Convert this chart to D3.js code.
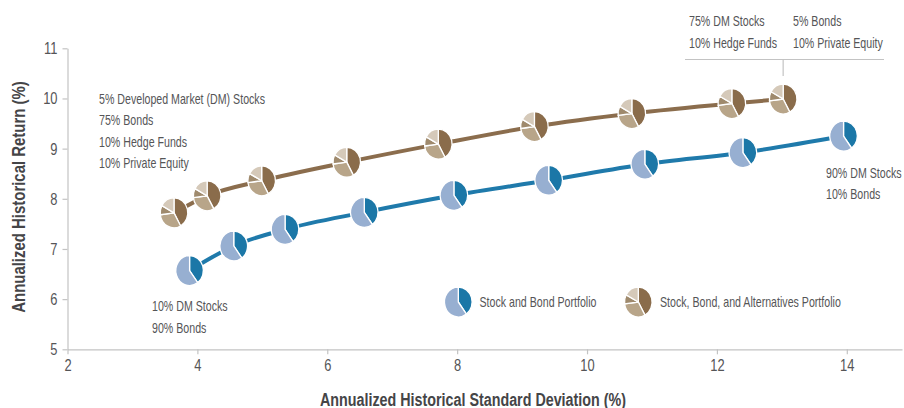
<!DOCTYPE html>
<html>
<head>
<meta charset="utf-8">
<script src="https://cdn.jsdelivr.net/npm/d3@7"></script>
<style>
  html, body { margin: 0; padding: 0; background: #fff; }
  svg { display: block; }
  text { font-family: "Liberation Sans", Arial, sans-serif; }
</style>
</head>
<body>
<svg id="chart" width="904" height="408"></svg>
<script>
// ---- data ----
const stockBondRisk   = [3.88, 4.56, 5.35, 6.57, 7.95, 9.41, 10.89, 12.40, 13.95];
const stockBondReturn = [6.57, 7.06, 7.39, 7.73, 8.07, 8.37, 8.69, 8.92, 9.25];
const altRisk   = [3.64, 4.15, 4.99, 6.30, 7.71, 9.19, 10.69, 12.23, 13.02];
const altReturn = [7.72, 8.06, 8.36, 8.73, 9.09, 9.44, 9.70, 9.90, 9.99];
const xTicks = [2, 4, 6, 8, 10, 12, 14];
const yTicks = [5, 6, 7, 8, 9, 10, 11];
// pie icon shares (stylised icon, same for each marker)
const stockBondIcon = [40, 60];
const altIcon = [42, 31, 10, 17];
const seriesNames = ["Stock and Bond Portfolio", "Stock, Bond, and Alternatives Portfolio"];
const startAltLabel = ["5% Developed Market (DM) Stocks", "75% Bonds", "10% Hedge Funds", "10% Private Equity"];
const endAltLabelA = ["75% DM Stocks", "10% Hedge Funds"];
const endAltLabelB = ["5% Bonds", "10% Private Equity"];
const startSBLabel = ["10% DM Stocks", "90% Bonds"];
const endSBLabel = ["90% DM Stocks", "10% Bonds"];
const xTitle = "Annualized Historical Standard Deviation (%)";
const yTitle = "Annualized Historical Return (%)";

// ---- style ----
const blueColors = ["#1b77a7", "#97afd1"];
const brownColors = ["#8a6c4b", "#b8a589", "#9f8a6d", "#d5c9b9"];
const blueLine = "#1f7aab", brownLine = "#8b6d4d";
const textCol = "#555557", titleCol = "#454547", axisCol = "#c3c3c3";
const SX = 0.76; // horizontal condensing of text

const svg = d3.select("#chart");
const x = d3.scaleLinear().domain([2, 14.85]).range([67.5, 902]);
const y = d3.scaleLinear().domain([5, 11]).range([349.3, 48.3]);

// axes
const xAxis = svg.append("g").attr("transform", `translate(0,${y(5)})`)
  .call(d3.axisBottom(x).tickValues(xTicks).tickFormat(d3.format("d")).tickSizeInner(5).tickSizeOuter(0).tickPadding(5));
const yAxis = svg.append("g").attr("transform", `translate(${x(2)},0)`)
  .call(d3.axisLeft(y).tickValues(yTicks).tickFormat(d3.format("d")).tickSizeInner(5).tickSizeOuter(0).tickPadding(5));
[xAxis, yAxis].forEach(g => {
  g.select(".domain").attr("stroke", axisCol).attr("stroke-width", 1.2);
  g.selectAll(".tick line").attr("stroke", axisCol).attr("stroke-width", 1.2);
  g.selectAll(".tick text").attr("fill", textCol)
    .style("font-size", "17px").style("font-family", '"Liberation Sans", Arial, sans-serif')
    .each(function () {
      const t = d3.select(this);
      const xv = +t.attr("x") || 0;
      t.attr("x", xv / SX).attr("transform", `scale(${SX},1)`);
    });
});

// condensed text helper
function label(str, tx, ty, opt = {}) {
  const sx = opt.sx || SX;
  return svg.append("text")
    .attr("transform", `translate(${tx},${ty})${opt.rotate ? " rotate(" + opt.rotate + ")" : ""} scale(${sx},1)`)
    .attr("text-anchor", opt.anchor || "start")
    .attr("fill", opt.fill || textCol)
    .style("font-size", (opt.size || 14) + "px")
    .style("font-weight", opt.weight || "normal")
    .text(str);
}

// axis titles
label(xTitle, 473, 405.5, { anchor: "middle", fill: titleCol, size: 18, weight: "bold", sx: 0.795 });
label(yTitle, 24.5, 197, { anchor: "middle", fill: titleCol, size: 18, weight: "bold", rotate: -90, sx: 0.83 });

// lines
const line = d3.line().curve(d3.curveMonotoneX);
svg.append("path").attr("d", line(altRisk.map((d, i) => [x(d), y(altReturn[i])])))
  .attr("fill", "none").attr("stroke", brownLine).attr("stroke-width", 4);
svg.append("path").attr("d", line(stockBondRisk.map((d, i) => [x(d), y(stockBondReturn[i])])))
  .attr("fill", "none").attr("stroke", blueLine).attr("stroke-width", 4);

// pies
const pie = d3.pie().sort(null);
const arc = d3.arc().innerRadius(0).outerRadius(15);
function drawPie(cx, cy, shares, colors) {
  const g = svg.append("g").attr("transform", `translate(${cx},${cy}) scale(0.92,1)`);
  g.selectAll("path").data(pie(shares)).join("path")
    .attr("d", arc).attr("fill", (d, i) => colors[i])
    .attr("stroke", "#fff").attr("stroke-width", 1.4).attr("stroke-linejoin", "round");
}
altRisk.forEach((d, i) => drawPie(x(d), y(altReturn[i]), altIcon, brownColors));
stockBondRisk.forEach((d, i) => drawPie(x(d), y(stockBondReturn[i]), stockBondIcon, blueColors));

// labels
function block(lines, tx, ty, gap) {
  lines.forEach((s, i) => label(s, tx, ty + i * gap));
}
block(startAltLabel, 99, 103.5, 21.5);
block(startSBLabel, 152, 311, 21.5);
block(endSBLabel, 826, 177.5, 21.5);
block(endAltLabelA, 689, 26, 21.5);
block(endAltLabelB, 793, 26, 21.5);
// leader lines for top-right label
const lastX = x(altRisk[altRisk.length - 1]);
svg.append("line").attr("x1", 685).attr("x2", 884).attr("y1", 59.5).attr("y2", 59.5)
  .attr("stroke", axisCol).attr("stroke-width", 1.2);
svg.append("line").attr("x1", lastX).attr("x2", lastX)
  .attr("y1", 59.5).attr("y2", 76).attr("stroke", axisCol).attr("stroke-width", 1.2);

// legend
drawPie(458.3, 302, stockBondIcon, blueColors);
label(seriesNames[0], 479.5, 307);
drawPie(638.3, 302, altIcon, brownColors);
label(seriesNames[1], 660, 307);
</script>
</body>
</html>
